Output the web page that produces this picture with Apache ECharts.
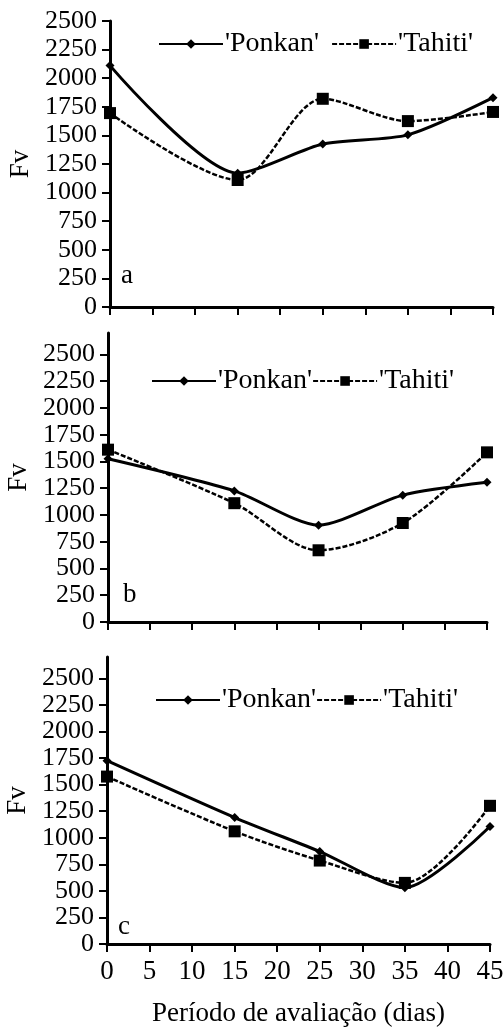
<!DOCTYPE html>
<html>
<head>
<meta charset="utf-8">
<script src="https://cdn.jsdelivr.net/npm/echarts@6/dist/echarts.min.js"></script>
<style>
html, body { margin: 0; padding: 0; background: #fff; }
#main { width: 504px; height: 1028px; }
</style>
</head>
<body>
<div id="main"></div>
<script>
// dias de avaliacao
var dias = [0, 15, 25, 35, 45];
var xTicks = [0, 5, 10, 15, 20, 25, 30, 35, 40, 45];
var yTicks = [0, 250, 500, 750, 1000, 1250, 1500, 1750, 2000, 2250, 2500];

// painel a
var ponkanA = [2110, 1170, 1425, 1505, 1830];
var tahitiA = [1695, 1110, 1820, 1625, 1705];
// painel b
var ponkanB = [1525, 1225, 905, 1185, 1305];
var tahitiB = [1610, 1110, 670, 925, 1585];
// painel c
var ponkanC = [1725, 1190, 870, 530, 1105];
var tahitiC = [1575, 1060, 785, 575, 1300];

var letras = ['a', 'b', 'c'];
var nomes = ["'Ponkan'", "'Tahiti'"];

var fonte = "'Liberation Serif', 'Times New Roman', 'DejaVu Serif', serif";
var dom = document.getElementById('main');
var myChart = echarts.init(dom);

function pares(vals) {
    return dias.map(function (d, i) { return [d, vals[i]]; });
}
function simples(v) { return String(v); }

var grids = [
    { left: 110, right: 11, top: 21, height: 286, outerBoundsMode: 'none', containLabel: false },
    { left: 108, right: 17, top: 333, height: 289, outerBoundsMode: 'none', containLabel: false },
    { left: 107, right: 14, top: 657, height: 287, outerBoundsMode: 'none', containLabel: false }
];
var maxY = [2500, 2700, 2700];

var xAxes = [], yAxes = [], series = [], legends = [], titles = [];
var legPos = [
    { left: 158, top: 30, itemGap: 12 },
    { left: 151, top: 367, itemGap: 0 },
    { left: 155, top: 686, itemGap: 0 }
];
var letraPos = [[121, 262], [123, 581], [118, 913]];
var dados = [[ponkanA, tahitiA], [ponkanB, tahitiB], [ponkanC, tahitiC]];

for (var i = 0; i < 3; i++) {
    var ultimo = (i === 2);
    xAxes.push({
        type: 'value', gridIndex: i, min: 0, max: 45, interval: 5,
        axisLine: { show: true, onZero: false, lineStyle: { color: '#000', width: 3 } },
        axisTick: { show: true, length: 8, lineStyle: { color: '#000', width: 2 }, customValues: xTicks },
        axisLabel: {
            show: ultimo, color: '#000', fontFamily: fonte, fontSize: 27, margin: 14,
            customValues: xTicks, formatter: simples, hideOverlap: false,
            showMinLabel: true, showMaxLabel: true
        },
        splitLine: { show: false },
        name: ultimo ? 'Período de avaliação (dias)' : '',
        nameLocation: 'middle', nameGap: 56,
        nameTextStyle: { color: '#000', fontFamily: fonte, fontSize: 27 }
    });
    yAxes.push({
        type: 'value', gridIndex: i, min: 0, max: maxY[i],
        axisLine: { show: true, lineStyle: { color: '#000', width: 3 } },
        axisTick: { show: true, length: 8, lineStyle: { color: '#000', width: 2 }, customValues: yTicks },
        axisLabel: {
            color: '#000', fontFamily: fonte, fontSize: 26, lineHeight: 20, margin: 13,
            customValues: yTicks, formatter: simples, hideOverlap: false,
            showMinLabel: true, showMaxLabel: true
        },
        splitLine: { show: false },
        name: 'Fv', nameLocation: 'middle', nameGap: 76,
        nameTextStyle: { color: '#000', fontFamily: fonte, fontSize: 27 }
    });
    series.push({
        name: nomes[0], type: 'line', xAxisIndex: i, yAxisIndex: i,
        data: pares(dados[i][0]), smooth: 0.25,
        symbol: 'diamond', symbolSize: 9,
        lineStyle: { color: '#000', width: 3 },
        itemStyle: { color: '#000' }
    });
    series.push({
        name: nomes[1], type: 'line', xAxisIndex: i, yAxisIndex: i,
        data: pares(dados[i][1]), smooth: 0.3,
        symbol: 'rect', symbolSize: 12,
        lineStyle: { color: '#000', width: 2.5, type: [5, 2] },
        itemStyle: { color: '#000' }
    });
    legends.push({
        data: nomes, left: legPos[i].left, top: legPos[i].top,
        itemGap: legPos[i].itemGap, itemWidth: 64, itemHeight: 12,
        padding: 0, selectedMode: false,
        textStyle: { color: '#000', fontFamily: fonte, fontSize: 28, padding: [0, 0, 0, -3] }
    });
    titles.push({
        text: letras[i], left: letraPos[i][0], top: letraPos[i][1], padding: 0,
        textStyle: { color: '#000', fontFamily: fonte, fontSize: 27, fontWeight: 'normal' }
    });
}

var option = {
    backgroundColor: '#fff',
    animation: false,
    title: titles,
    legend: legends,
    grid: grids,
    xAxis: xAxes,
    yAxis: yAxes,
    series: series
};
myChart.setOption(option);
</script>
</body>
</html>
